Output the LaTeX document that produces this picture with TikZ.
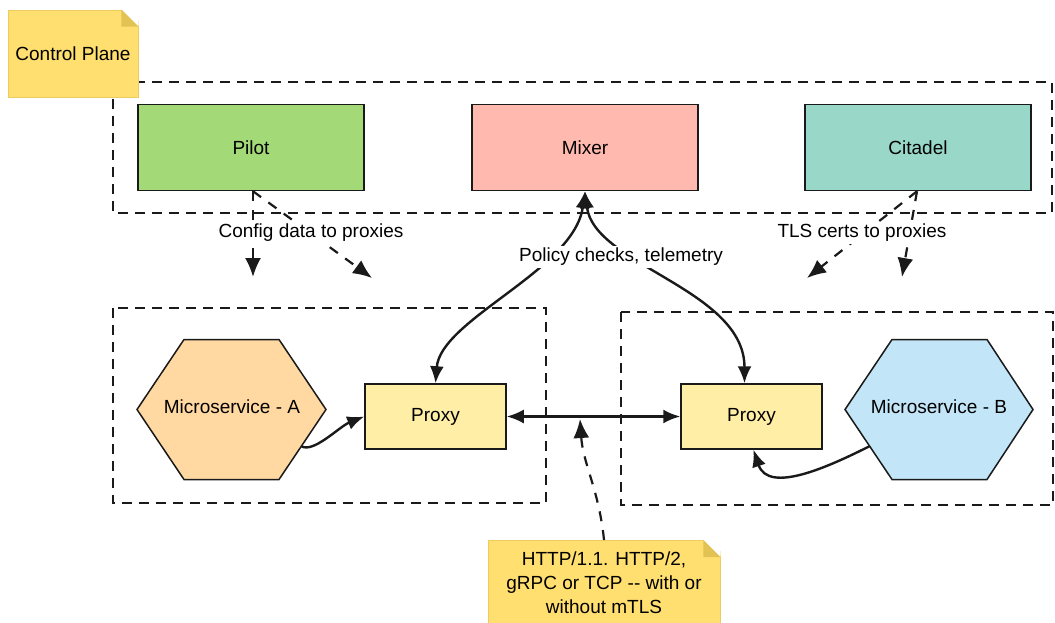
\documentclass[tikz,border=0pt]{standalone}
\usepackage{fontspec}
\setmainfont{Liberation Sans}
\usepackage{xcolor}
\usetikzlibrary{arrows.meta}
\definecolor{PilotGreen}{RGB}{163,217,119}
\definecolor{MixerPink}{RGB}{255,185,174}
\definecolor{CitadelTeal}{RGB}{153,216,201}
\definecolor{ProxyYellow}{RGB}{255,238,166}
\definecolor{ServiceOrange}{RGB}{255,217,161}
\definecolor{ServiceBlue}{RGB}{194,229,248}
\definecolor{NoteYellow}{RGB}{255,223,112}
\definecolor{NoteFold}{RGB}{226,194,82}
\definecolor{NoteEdge}{RGB}{236,204,96}
\definecolor{LineDark}{RGB}{26,26,26}

\tikzset{
  component/.style={draw=LineDark,line width=1.5pt,minimum width=226pt,minimum height=86pt,inner sep=0pt},
  proxybox/.style={draw=LineDark,line width=1.5pt,fill=ProxyYellow,minimum width=141pt,minimum height=65pt,inner sep=0pt},
  servicehex/.style={draw=LineDark,line width=1.5pt,line join=miter},
  planebox/.style={draw=LineDark,line width=1.6pt,dash pattern=on 10pt off 7pt},
  flow/.style={draw=LineDark,line width=2.4pt},
  pushflow/.style={flow,line width=2.2pt,dash pattern=on 10pt off 9pt,-{Latex[length=19pt,width=16pt]}},
  tag/.style={fill=white,inner sep=2pt},
  note/.style={fill=NoteYellow,draw=NoteEdge,line width=0.8pt,inner sep=0pt}
}

\begin{document}
\begin{tikzpicture}[x=1pt,y=-1pt,font=\fontsize{19}{24}\selectfont,
  >={Latex[length=17pt,width=14pt]}]
  \useasboundingbox (0,0) rectangle (1055,623);

  \draw[planebox] (113,82) rectangle (1052,213);
  \draw[planebox] (113,308) rectangle (546,503);
  \draw[planebox] (621,312) rectangle (1053,505);

  \node[component,fill=PilotGreen] (pilot) at (251,147.5) {Pilot};
  \node[component,fill=MixerPink] (mixer) at (585,147.5) {Mixer};
  \node[component,fill=CitadelTeal] (citadel) at (918,147.5) {Citadel};

  \draw[servicehex,fill=ServiceOrange] (137,409.5) -- ++(47,-70) -- ++(95,0) -- ++(47,70) -- ++(-47,70) -- ++(-95,0) -- cycle;
  \node (msA) at (232,407) {Microservice - A};
  \coordinate (msAout) at (301,446);
  \draw[servicehex,fill=ServiceBlue] (845,409.5) -- ++(47,-70) -- ++(95,0) -- ++(46,70) -- ++(-46,70) -- ++(-95,0) -- cycle;
  \node (msB) at (939,407) {Microservice - B};
  \coordinate (msBout) at (870,446);

  \node[proxybox] (proxyA) at (435.5,416.5) {Proxy};
  \node[proxybox] (proxyB) at (751.5,416.5) {Proxy};

  \coordinate (cfgA) at (253,277);
  \coordinate (cfgB) at (372,278);
  \coordinate (tlsA) at (807,278);
  \coordinate (tlsB) at (902,277);
  \coordinate (wire) at (580,419);

  \draw[pushflow] ([xshift=2pt]pilot.south) -- (cfgA);
  \draw[pushflow] ([xshift=2pt]pilot.south) -- (cfgB);
  \draw[pushflow] ([xshift=-1pt]citadel.south) -- (tlsA);
  \draw[pushflow] ([xshift=-1pt]citadel.south) -- (tlsB);

  \draw[flow,<->] (proxyA.north) .. controls +(5,-64) and +(-11,79) .. (mixer.south);
  \draw[flow,<->] ([xshift=-7pt]proxyB.north) .. controls +(0,-94) and +(9,74) .. (mixer.south);
  \draw[flow,<->] (proxyA) -- (proxyB);
  \draw[flow,->] (msAout) .. controls +(12,8) and +(-25,10) .. (proxyA.west);
  \draw[flow,->] (msBout) .. controls +(-40,20) and +(15,45) .. ([xshift=2pt]proxyB.south);

  \node[tag] (cfglabel) at (311,233) {Config data to proxies};
  \node[tag] (policylabel) at (621,257) {Policy checks, telemetry};
  \node[tag] (tlslabel) at (862,233) {TLS certs to proxies};

  \node[note,minimum width=130pt,minimum height=87pt] (cpnote) at (73,53.5) {Control Plane};
  \fill[white] ([xshift=-17pt]cpnote.north east) -- ([xshift=1pt,yshift=1pt]cpnote.north east) -- ([yshift=-17pt]cpnote.north east) -- cycle;
  \fill[NoteFold] ([xshift=-17pt]cpnote.north east) -- ([xshift=-17pt,yshift=-17pt]cpnote.north east) -- ([yshift=-17pt]cpnote.north east) -- cycle;

  \node[note,anchor=north,minimum width=232pt,minimum height=84pt,align=center] (httpnote) at (604,540)
    {HTTP/1.1. HTTP/2,\\gRPC or TCP -\kern0pt- with or\\without mTLS};
  \fill[white] ([xshift=-17pt]httpnote.north east) -- ([xshift=1pt,yshift=1pt]httpnote.north east) -- ([yshift=-17pt]httpnote.north east) -- cycle;
  \fill[NoteFold] ([xshift=-17pt]httpnote.north east) -- ([xshift=-17pt,yshift=-17pt]httpnote.north east) -- ([yshift=-17pt]httpnote.north east) -- cycle;
  \draw[pushflow] (httpnote.north) .. controls +(-5,-50) and +(3,45) .. (wire);
\end{tikzpicture}
\end{document}
